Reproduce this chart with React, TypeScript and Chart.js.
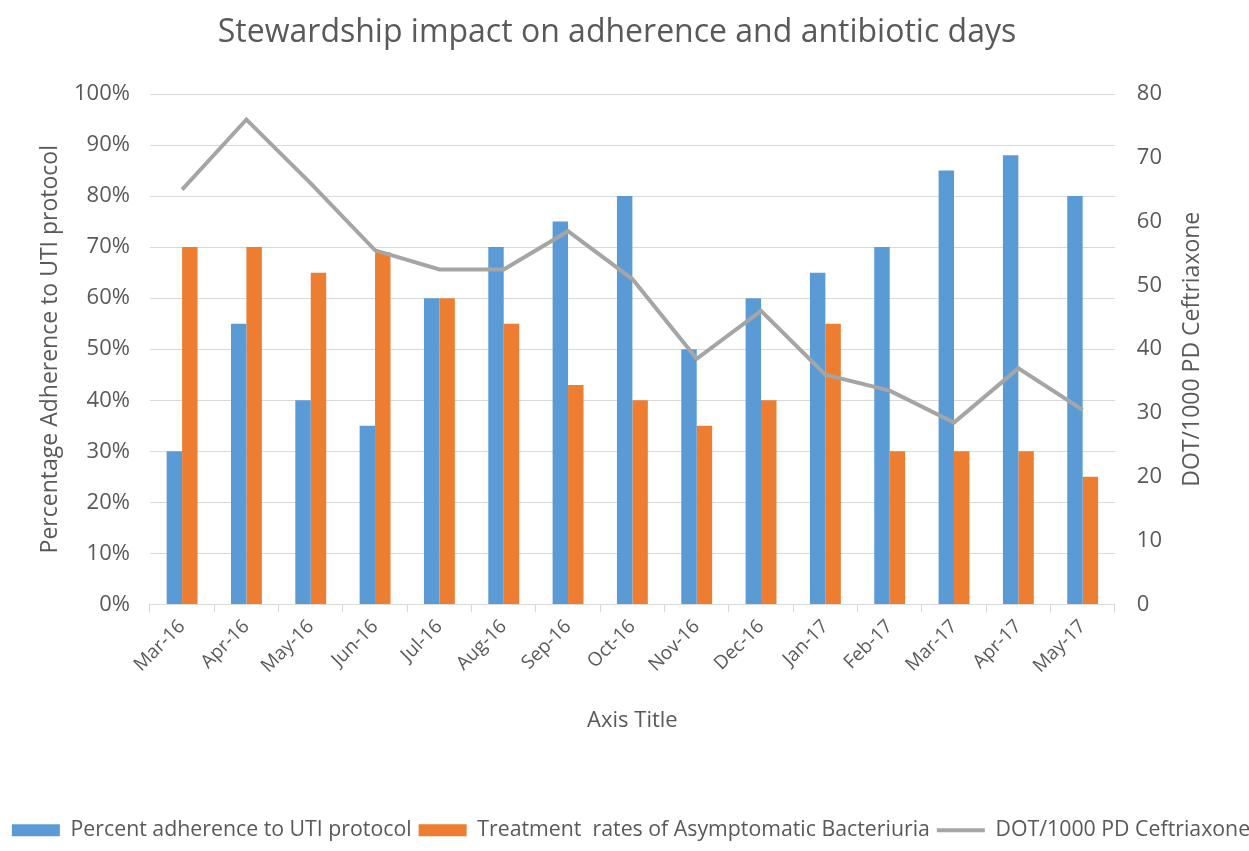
import React, { useEffect, useRef } from "react";
import { Chart, registerables } from "chart.js";

Chart.register(...registerables);

const categories = [
  "Mar-16", "Apr-16", "May-16", "Jun-16", "Jul-16", "Aug-16", "Sep-16", "Oct-16",
  "Nov-16", "Dec-16", "Jan-17", "Feb-17", "Mar-17", "Apr-17", "May-17",
];
const adherence = [30, 55, 40, 35, 60, 70, 75, 80, 50, 60, 65, 70, 85, 88, 80];
const treatmentRates = [70, 70, 65, 69, 60, 55, 43, 40, 35, 40, 55, 30, 30, 30, 25];
const dotCeftriaxone = [65, 76, 66, 55.5, 52.5, 52.5, 58.5, 51, 38.5, 46, 36, 33.5, 28.5, 37, 30.5];
const leftTicks = [0, 100, 10];
const rightTicks = [0, 80, 10];

const FONT = "'Open Sans', 'DejaVu Sans', sans-serif";
const TEXT = "#595959";
const GRID = "#d9d9d9";
const W = 1262;
const TITLE = "Stewardship impact on adherence and antibiotic days";
const TITLE_SIZE = 32;
const TITLE_SHIFT = -14;
const RIGHT_TITLE = "DOT/1000 PD Ceftriaxone";
const RIGHT_TITLE_SIZE = 23;
const RIGHT_TITLE_OFFSET = 56;

const textPlugin = {
  id: "customTitles",
  afterDraw(chart: any) {
    const ctx = chart.ctx;
    // main title (space reserved by the transparent built-in title)
    const t = chart.titleBlock;
    if (t) {
      const cx = (t.left + t.right) / 2 + TITLE_SHIFT;
      const cy = t.top + 14 + (TITLE_SIZE * 1.2) / 2;
      ctx.save();
      ctx.font = `${TITLE_SIZE}px ${FONT}`;
      ctx.fillStyle = TEXT;
      ctx.textAlign = "center";
      ctx.textBaseline = "middle";
      ctx.fillText(TITLE, cx, cy);
      ctx.restore();
    }
    const s = chart.scales.y1;
    if (s) {
      const cx = s.right - RIGHT_TITLE_OFFSET - (RIGHT_TITLE_SIZE * 1.2) / 2;
      const cy = (s.top + s.bottom) / 2;
      ctx.save();
      ctx.translate(cx, cy);
      ctx.rotate(-Math.PI / 2);
      ctx.font = `${RIGHT_TITLE_SIZE}px ${FONT}`;
      ctx.fillStyle = TEXT;
      ctx.textAlign = "center";
      ctx.textBaseline = "middle";
      ctx.fillText(RIGHT_TITLE, 0, 0);
      ctx.restore();
    }
  },
};

export default function App() {
  const ref = useRef<HTMLCanvasElement | null>(null);
  useEffect(() => {
    document.body.style.overflow = "hidden";
    document.documentElement.style.overflow = "hidden";
    if (!ref.current) return;
    const chart = new Chart(ref.current, {
      type: "bar",
      data: {
        labels: categories,
        datasets: [
          {
            type: "bar",
            label: "Percent adherence to UTI protocol",
            data: adherence,
            backgroundColor: "#5b9bd5",
            borderWidth: 0,
            pointStyle: "rect",
            yAxisID: "y",
            order: 1,
            barPercentage: 1,
            categoryPercentage: 0.48,
          },
          {
            type: "bar",
            label: "Treatment  rates of Asymptomatic Bacteriuria",
            data: treatmentRates,
            backgroundColor: "#ed7d31",
            borderWidth: 0,
            pointStyle: "rect",
            yAxisID: "y",
            order: 1,
            barPercentage: 1,
            categoryPercentage: 0.48,
          },
          {
            type: "line",
            label: "DOT/1000 PD Ceftriaxone",
            data: dotCeftriaxone,
            borderColor: "#a5a5a5",
            backgroundColor: "#a5a5a5",
            borderWidth: 4,
            pointRadius: 0,
            pointStyle: "line",
            tension: 0,
            yAxisID: "y1",
            order: 0,
          },
        ] as any,
      },
      options: {
        animation: false,
        responsive: true,
        maintainAspectRatio: false,
        layout: { padding: { left: 0, right: 0, top: 0, bottom: 0 } },
        plugins: {
          title: {
            display: true,
            text: TITLE,
            color: "rgba(0,0,0,0)",
            font: { family: FONT, size: TITLE_SIZE, weight: "normal" },
            padding: { top: 14, bottom: 41.6 },
          },
          legend: {
            position: "bottom",
            labels: {
              usePointStyle: true,
              pointStyleWidth: 48,
              boxHeight: 12,
              padding: 7,
              color: TEXT,
              font: { family: FONT, size: 21.3 },
              sort: (a: any, b: any) => a.datasetIndex - b.datasetIndex,
            },
          },
          tooltip: { enabled: false },
        },
        scales: {
          x: {
            offset: true,
            grid: {
              display: true,
              offset: true,
              drawOnChartArea: false,
              drawTicks: true,
              tickLength: 8,
              color: GRID,
            },
            border: { display: true, color: GRID },
            ticks: {
              color: TEXT,
              font: { family: FONT, size: 19 },
              minRotation: 45,
              maxRotation: 45,
              autoSkip: false,
              padding: 3,
            },
            title: {
              display: true,
              text: "Axis Title",
              color: TEXT,
              font: { family: FONT, size: 22 },
              padding: { top: 27, bottom: 78.8 },
            },
          },
          y: {
            position: "left",
            min: leftTicks[0],
            max: leftTicks[1],
            grid: { color: GRID, drawTicks: false },
            border: { display: false },
            ticks: {
              stepSize: leftTicks[2],
              color: TEXT,
              font: { family: FONT, size: 22 },
              padding: 20,
              callback: (v: any) => `${v}%`,
            },
            title: {
              display: true,
              text: "Percentage Adherence to UTI protocol",
              color: TEXT,
              font: { family: FONT, size: 23 },
              padding: { top: 36.2, bottom: -9.8 },
            },
          },
          y1: {
            position: "right",
            min: rightTicks[0],
            max: rightTicks[1],
            grid: { display: false, drawTicks: false },
            border: { display: false },
            ticks: {
              stepSize: rightTicks[2],
              color: TEXT,
              font: { family: FONT, size: 22 },
              padding: 22,
            },
            title: {
              display: true,
              text: RIGHT_TITLE,
              color: "rgba(0,0,0,0)",
              font: { family: FONT, size: 20 },
              padding: { top: 54, bottom: 0 },
            },
          },
        },
      } as any,
      plugins: [textPlugin],
    });
    return () => chart.destroy();
  }, []);
  return (
    <div style={{ position: "fixed", left: 0, top: 0, width: W, height: 851, background: "#fff" }}>
      <canvas ref={ref} />
    </div>
  );
}
